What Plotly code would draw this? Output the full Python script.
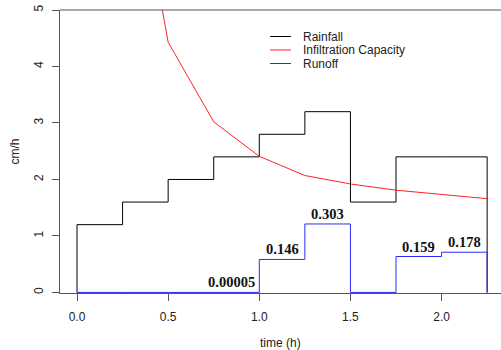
import plotly.graph_objects as go

# ---- data ----
interval_start = [0.0, 0.25, 0.5, 0.75, 1.0, 1.25, 1.5, 1.75, 2.0]
dt = 0.25
rainfall = [1.2, 1.6, 2.0, 2.4, 2.8, 3.2, 1.6, 2.4, 2.4]          # cm/h
runoff_depth = [0, 0, 0, 0.00005, 0.146, 0.303, 0, 0.159, 0.178]  # cm per interval
runoff_labels = ["", "", "", "0.00005", "0.146", "0.303", "", "0.159", "0.178"]
infil_time = [0.25, 0.5, 0.75, 1.0, 1.25, 1.5, 1.75, 2.0, 2.25]
infil_cap = [8.9, 4.43, 3.02, 2.41, 2.07, 1.92, 1.81, 1.73, 1.66]  # cm/h
x_ticks = [0.0, 0.5, 1.0, 1.5, 2.0]
x_tick_text = ["0.0", "0.5", "1.0", "1.5", "2.0"]
y_ticks = [0, 1, 2, 3, 4, 5]

t_end = interval_start[-1] + dt
runoff_rate = [d / dt for d in runoff_depth]

AX = "#555555"
TXT = "#222222"
SANS = "Liberation Sans, Arial, sans-serif"
C_RAIN = "#000000"
C_INF = "#ff2020"
C_RUN = "#2a2aff"

fig = go.Figure()

# rainfall step
fig.add_trace(go.Scatter(
    x=[interval_start[0]] + interval_start + [t_end, t_end],
    y=[0] + rainfall + [rainfall[-1], 0],
    mode="lines", line=dict(color=C_RAIN, width=1, shape="hv"),
    showlegend=False, hoverinfo="skip"))

# infiltration capacity
fig.add_trace(go.Scatter(
    x=infil_time, y=infil_cap, mode="lines",
    line=dict(color=C_INF, width=1), showlegend=False, hoverinfo="skip"))

# runoff step
fig.add_trace(go.Scatter(
    x=[interval_start[0]] + interval_start + [t_end, t_end],
    y=[0] + runoff_rate + [runoff_rate[-1], 0],
    mode="lines", line=dict(color=C_RUN, width=1, shape="hv"),
    showlegend=False, hoverinfo="skip"))

# runoff labels
for xs, r, lab in zip(interval_start, runoff_rate, runoff_labels):
    if not lab:
        continue
    fig.add_annotation(
        x=xs + dt / 2, y=r, text="<b>%s</b>" % lab, showarrow=False,
        xanchor="center", yanchor="middle", yshift=10,
        xshift=-5 if r < 0.01 else 0,
        font=dict(family="Liberation Serif, Times New Roman, serif", size=14.5, color="#111111"))

# legend (manual, R style)
L = 60.0
W = 441.0
T = 10.0
H = 283.0
def px(xp):
    return (xp - L) / W
def py(yp):
    return (T + H - yp) / H

legend_items = [("Rainfall", C_RAIN, 36.5), ("Infiltration Capacity", C_INF, 50.0), ("Runoff", C_RUN, 63.5)]
for name, col, yp in legend_items:
    fig.add_shape(type="line", xref="paper", yref="paper",
                  x0=px(270), x1=px(291), y0=py(yp), y1=py(yp),
                  line=dict(color=col, width=1))
    fig.add_annotation(xref="paper", yref="paper", x=px(301), y=py(yp),
                       text=name, showarrow=False, xanchor="left", yanchor="middle",
                       font=dict(family=SANS, size=12, color=TXT))

# top box line
fig.add_shape(type="line", xref="paper", yref="paper", x0=0, x1=1, y0=1, y1=1,
              line=dict(color=AX, width=1))

# axis titles
fig.add_annotation(xref="paper", yref="paper", x=0, y=0.5, xshift=-46,
                   text="cm/h", textangle=-90, showarrow=False,
                   xanchor="center", yanchor="middle",
                   font=dict(family=SANS, size=12, color=TXT))
fig.add_annotation(xref="paper", yref="paper", x=0.5, y=0, yshift=-50,
                   text="time (h)", showarrow=False,
                   xanchor="center", yanchor="middle",
                   font=dict(family=SANS, size=12, color=TXT))

fig.update_layout(
    width=501, height=350,
    margin=dict(l=60, r=0, t=10, b=57),
    plot_bgcolor="white", paper_bgcolor="white",
    showlegend=False,
    xaxis=dict(range=[-0.0933, 2.326], showgrid=False, zeroline=False,
               showline=True, linecolor=AX, linewidth=1,
               ticks="outside", ticklen=7, tickcolor=AX,
               tickvals=x_ticks, ticktext=x_tick_text,
               tickfont=dict(family=SANS, size=12, color=TXT),
               ticklabelstandoff=6, layer="below traces"),
    yaxis=dict(range=[-0.01, 5], showgrid=False, zeroline=False,
               showline=True, linecolor=AX, linewidth=1,
               ticks="outside", ticklen=7, tickcolor=AX,
               tickvals=y_ticks, tickangle=-90,
               tickfont=dict(family=SANS, size=12, color=TXT),
               ticklabelstandoff=4, layer="below traces"),
)

fig.write_html("out.html")
